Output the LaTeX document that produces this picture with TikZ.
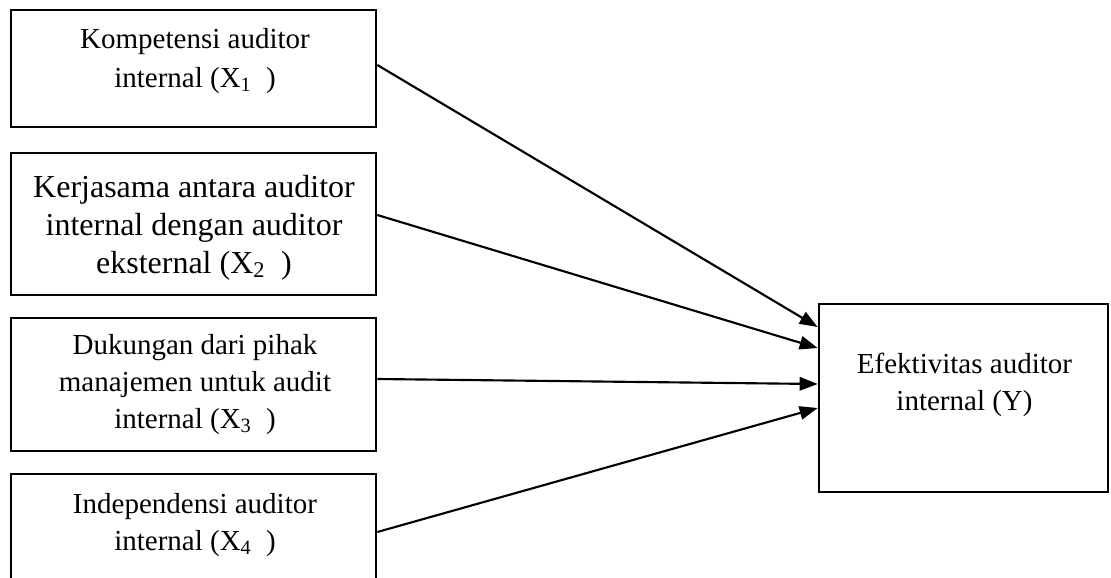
\documentclass[tikz,border=0pt]{standalone}
\usepackage{fontspec}
\setmainfont{Liberation Serif}
\usetikzlibrary{arrows.meta}
\begin{document}
\begin{tikzpicture}[x=0.75pt,y=-0.75pt,
  box/.style={draw, line width=2pt, inner sep=0pt, minimum width=273.75pt},
  lbl/.style={align=center, inner sep=0pt, anchor=base, font=\fontsize{21.75}{28}\selectfont},
  link/.style={line width=1.6pt, -{Triangle[length=13.5pt,width=10pt]}}]
\useasboundingbox (0,0) rectangle (1111,578);
\clip (0,0) rectangle (1111,578);
% boxes
\node[box, minimum height=87.75pt] (b1) at (193.5,68.5) {};
\node[box, minimum height=106.5pt] (b2) at (193.5,224) {};
\node[box, minimum height=99.75pt] (b3) at (193.5,384.5) {};
\node[box, minimum height=94.5pt] (b4) at (193.5,537) {};
\node[box, minimum width=216.75pt, minimum height=141pt] (y) at (963.5,398) {};
% texts
\node[lbl, font=\fontsize{21.75}{29.25}\selectfont] (t1) at (195,87) {Kompetensi auditor\\internal (X\textsubscript{1}\ \ )};
\node[lbl, font=\fontsize{24}{28.5}\selectfont] (t2) at (194,273) {Kerjasama antara auditor\\internal dengan auditor\\eksternal (X\textsubscript{2}\ \ )};
\node[lbl, font=\fontsize{21.75}{27.75}\selectfont] (t3) at (195,428) {Dukungan dari pihak\\manajemen untuk audit\\internal (X\textsubscript{3}\ \ )};
\node[lbl, font=\fontsize{21.75}{27.75}\selectfont] (t4) at (195,550) {Independensi auditor\\internal (X\textsubscript{4}\ \ )};
\node[lbl, font=\fontsize{21.75}{27.75}\selectfont] (ty) at (964.5,410) {Efektivitas auditor\\internal (Y)};
% connectors
\draw[link] (b1.east |- 0,65) -- (y.west |- 0,327);
\draw[link] (b2.east |- 0,215) -- (y.west |- 0,348);
\draw[link] (b3.east |- 0,379) -- (y.west |- 0,384);
\draw[link] (b4.east |- 0,532) -- (y.west |- 0,408);
\end{tikzpicture}
\end{document}
